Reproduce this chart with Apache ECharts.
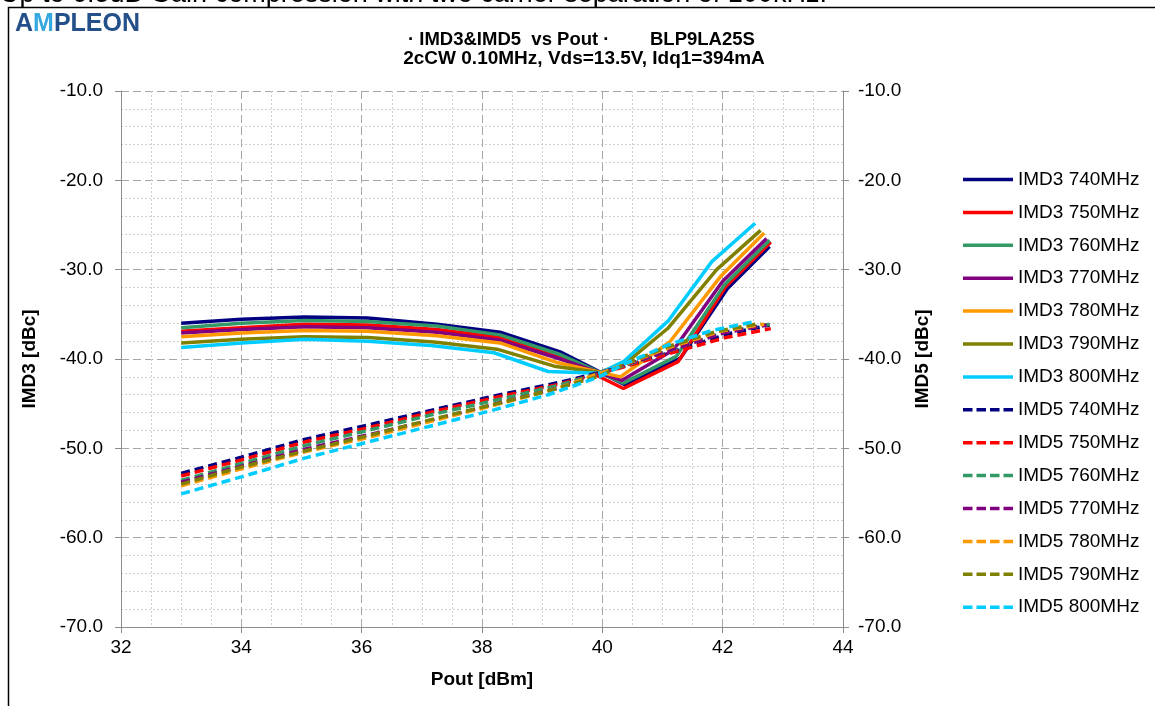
<!DOCTYPE html>
<html>
<head>
<meta charset="utf-8">
<script src="https://cdn.jsdelivr.net/npm/echarts@6/dist/echarts.min.js"></script>
<style>
html,body{margin:0;padding:0;background:#fff;}
#chart{width:1155px;height:706px;}
</style>
</head>
<body>
<div id="chart"></div>
<script>
// ---- data ----
const freqs = ['740MHz','750MHz','760MHz','770MHz','780MHz','790MHz','800MHz'];
const colors = ['#000080','#FF0000','#339966','#800080','#FF9900','#808000','#00CCFF'];

const pout740 = [33.0, 34.0, 35.05, 36.1, 37.25, 38.3, 39.3, 40.38, 41.3, 42.08, 42.78];
const imd3_740 = [-36.0, -35.55, -35.3, -35.4, -36.1, -37.0, -39.2, -42.9, -39.9, -32.1, -27.4];
const imd5_740 = [-52.8, -51.0, -49.0, -47.4, -45.6, -44.0, -42.6, -40.8, -38.9, -37.2, -36.2];

const pout750 = [33.0, 34.0, 35.05, 36.1, 37.25, 38.3, 39.3, 40.35, 41.26, 42.05, 42.8];
const imd3_750 = [-36.9, -36.5, -36.1, -36.2, -36.7, -37.6, -39.8, -43.3, -40.3, -31.9, -26.9];
const imd5_750 = [-53.1, -51.3, -49.3, -47.7, -45.8, -44.2, -42.8, -40.9, -39.1, -37.6, -36.6];

const pout760 = [33.0, 34.0, 35.05, 36.1, 37.25, 38.3, 39.3, 40.35, 41.23, 42.03, 42.78];
const imd3_760 = [-36.5, -36.0, -35.7, -35.8, -36.3, -37.3, -39.5, -42.7, -39.7, -31.7, -26.7];
const imd5_760 = [-53.6, -51.7, -49.7, -48.0, -46.1, -44.5, -42.9, -40.8, -38.8, -37.0, -36.1];

const pout770 = [33.0, 34.0, 35.05, 36.1, 37.25, 38.3, 39.3, 40.32, 41.18, 42.0, 42.73];
const imd3_770 = [-37.1, -36.7, -36.4, -36.5, -37.0, -37.9, -40.0, -42.4, -39.0, -31.3, -26.5];
const imd5_770 = [-53.8, -52.0, -50.1, -48.5, -46.7, -44.9, -43.2, -40.8, -38.9, -37.1, -36.2];

const pout780 = [33.0, 34.0, 35.05, 36.1, 37.25, 38.3, 39.25, 40.3, 41.12, 41.96, 42.69];
const imd3_780 = [-37.5, -37.1, -36.8, -36.9, -37.4, -38.2, -40.4, -42.0, -38.1, -30.8, -25.9];
const imd5_780 = [-54.2, -52.3, -50.4, -48.8, -46.8, -45.0, -43.3, -40.8, -38.7, -36.9, -36.1];

const pout790 = [33.0, 34.0, 35.05, 36.1, 37.2, 38.25, 39.2, 39.95, 40.4, 41.1, 41.9, 42.63];
const imd3_790 = [-38.2, -37.8, -37.5, -37.6, -38.1, -38.9, -40.8, -41.5, -40.4, -36.5, -30.0, -25.6];
const imd5_790 = [-54.0, -52.1, -50.3, -48.6, -46.7, -45.0, -43.4, -41.9, -40.5, -38.6, -36.9, -36.0];

const pout800 = [33.0, 34.0, 35.05, 36.1, 37.15, 38.2, 39.1, 39.95, 40.35, 41.1, 41.82, 42.54];
const imd3_800 = [-38.7, -38.2, -37.8, -38.0, -38.5, -39.3, -41.4, -41.6, -40.3, -35.7, -29.1, -24.8];
const imd5_800 = [-55.1, -53.2, -51.1, -49.3, -47.5, -45.7, -44.0, -42.0, -40.6, -38.4, -36.8, -35.8];

const xTicks = [32, 34, 36, 38, 40, 42, 44];
const yTicks = [-10, -20, -30, -40, -50, -60, -70];

const titleLeft = '\u00b7 IMD3&IMD5  vs Pout \u00b7';
const titleRight = 'BLP9LA25S';
const subtitleText = '2cCW 0.10MHz, Vds=13.5V, Idq1=394mA';
const topText = 'Up to 6.5dB Gain compression with two carrier separation of 100kHz.';

// ---- build ----
const pouts = [pout740, pout750, pout760, pout770, pout780, pout790, pout800];
const imd3s = [imd3_740, imd3_750, imd3_760, imd3_770, imd3_780, imd3_790, imd3_800];
const imd5s = [imd5_740, imd5_750, imd5_760, imd5_770, imd5_780, imd5_790, imd5_800];
const zip = (xs, ys) => xs.map((x, i) => [x, ys[i]]);

const SOLID_ICON = 'path://M0 0H50V3.5H0Z';
const DASH_ICON = 'path://M0 0H9.5V3.5H0Z M13.5 0H23V3.5H13.5Z M27 0H36.5V3.5H27Z M40.5 0H50V3.5H40.5Z';

const series = [];
const legendItems = [];
freqs.forEach((f, i) => {
  const n = 'IMD3 ' + f;
  legendItems.push({ name: n, icon: SOLID_ICON });
  series.push({
    name: n, type: 'line', yAxisIndex: 0, symbol: 'none', z: 3,
    data: zip(pouts[i], imd3s[i]),
    lineStyle: { color: colors[i], width: 3.5, type: 'solid' },
    itemStyle: { color: colors[i] }
  });
});
freqs.forEach((f, i) => {
  const n = 'IMD5 ' + f;
  legendItems.push({ name: n, icon: DASH_ICON });
  series.push({
    name: n, type: 'line', yAxisIndex: 1, symbol: 'none', z: 4,
    data: zip(pouts[i], imd5s[i]),
    lineStyle: { color: colors[i], width: 3.5, type: [9, 5] },
    itemStyle: { color: colors[i] }
  });
});

const FONT = 'Liberation Sans, Arial, sans-serif';
const FS = 19;
const axisLine = { show: true, lineStyle: { color: '#8c8c8c', width: 1 } };

const yAxisCommon = {
  type: 'value', min: -70, max: -10, interval: 10,
  axisLine: axisLine,
  axisTick: { show: true, length: 6, lineStyle: { color: '#8c8c8c' } },
  nameLocation: 'middle',
  nameTextStyle: { fontFamily: FONT, fontSize: FS, fontWeight: 'bold', color: '#000' },
  axisLabel: { fontFamily: FONT, fontSize: FS, color: '#000', formatter: v => v.toFixed(1) }
};

const chart = echarts.init(document.getElementById('chart'), null, { renderer: 'canvas' });
chart.setOption({
  backgroundColor: '#fff',
  animation: false,
  grid: { left: 121, right: 312, top: 91, bottom: 79, containLabel: false, show: false },
  xAxis: {
    type: 'value', min: 32, max: 44, interval: 2,
    name: 'Pout [dBm]', nameLocation: 'middle', nameGap: 43,
    nameTextStyle: { fontFamily: FONT, fontSize: FS, fontWeight: 'bold', color: '#000' },
    axisLine: axisLine,
    axisTick: { show: true, length: 6, lineStyle: { color: '#8c8c8c' } },
    axisLabel: { fontFamily: FONT, fontSize: FS, color: '#000', margin: 11 },
    splitLine: { show: true, lineStyle: { color: '#a6a6a6', type: [8, 4], width: 1 } },
    minorTick: { show: false, splitNumber: 4 },
    minorSplitLine: { show: true, lineStyle: { color: '#d0d0d0', type: [2, 2], width: 1 } }
  },
  yAxis: [
    Object.assign({}, yAxisCommon, {
      position: 'left', name: 'IMD3 [dBc]', nameGap: 82, nameRotate: 90,
      axisLabel: Object.assign({}, yAxisCommon.axisLabel, { margin: 18 }),
      minorTick: { show: false, splitNumber: 5 },
      splitLine: { show: true, lineStyle: { color: '#a6a6a6', type: [8, 4], width: 1 } },
      minorSplitLine: { show: true, lineStyle: { color: '#d0d0d0', type: [2, 2], width: 1 } }
    }),
    Object.assign({}, yAxisCommon, {
      position: 'right', name: 'IMD5 [dBc]', nameGap: 70, nameRotate: 90,
      axisLabel: Object.assign({}, yAxisCommon.axisLabel, { margin: 15 }),
      splitLine: { show: false }
    })
  ],
  legend: {
    data: legendItems,
    orient: 'vertical',
    left: 958, top: 165,
    itemWidth: 50, itemHeight: 3.5, itemGap: 13.9,
    itemStyle: { borderWidth: 0 },
    textStyle: { fontFamily: FONT, fontSize: FS, lineHeight: 19, color: '#000' },
    selectedMode: false
  },
  graphic: [
    { type: 'rect', shape: { x: 8.5, y: 7.5, width: 1300, height: 900 }, style: { fill: 'none', stroke: '#000', lineWidth: 1.5 }, silent: true, z: 0 },
    { type: 'text', left: 0, top: -19, style: { text: topText, fontFamily: FONT, fontSize: 27, fill: '#000' } },
    { type: 'text', left: 15, top: 12, style: { text: '{a|A}{m|M}{a|PLEON}', rich: {
        a: { fontFamily: FONT, fontSize: 25, fontWeight: 'bold', fill: '#24508a', color: '#24508a' },
        m: { fontFamily: FONT, fontSize: 25, fontWeight: 'bold', fill: '#35a8e0', color: '#35a8e0' } } } },
    { type: 'text', x: 408, y: 40, style: { text: titleLeft, fontFamily: FONT, fontSize: 18.5, fontWeight: 'bold', fill: '#000', textAlign: 'left', textVerticalAlign: 'middle' } },
    { type: 'text', x: 650, y: 40, style: { text: titleRight, fontFamily: FONT, fontSize: 18.5, fontWeight: 'bold', fill: '#000', textAlign: 'left', textVerticalAlign: 'middle' } },
    { type: 'text', x: 584, y: 59, style: { text: subtitleText, fontFamily: FONT, fontSize: FS, fontWeight: 'bold', fill: '#000', textAlign: 'center', textVerticalAlign: 'middle' } }
  ],
  series: series
});
</script>
</body>
</html>
